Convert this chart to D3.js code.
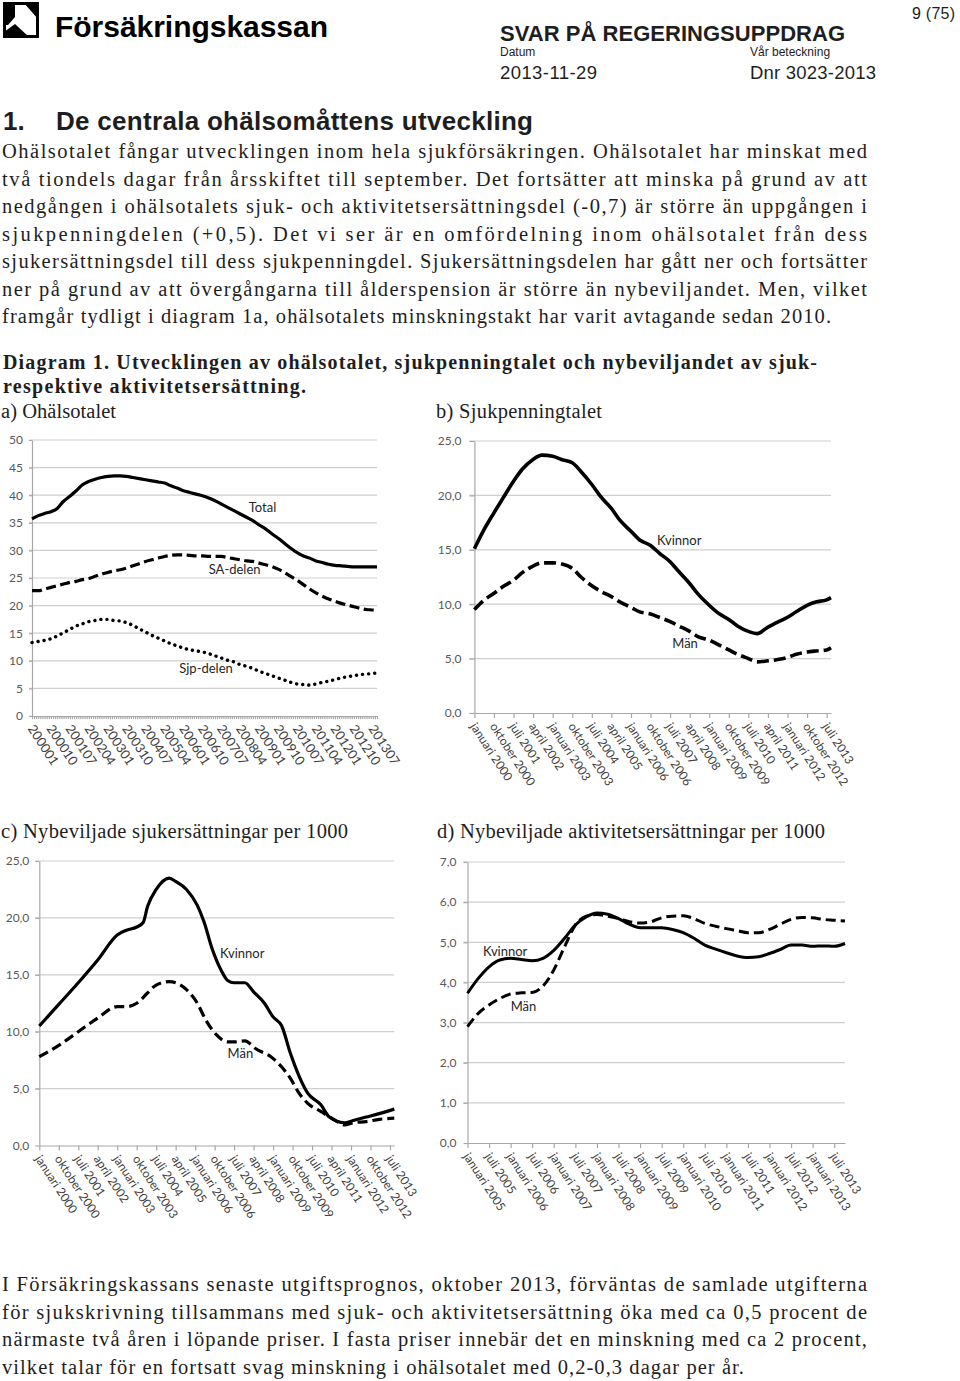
<!DOCTYPE html>
<html lang="sv">
<head>
<meta charset="UTF-8">
<title>Diagram 1 - ohälsotalet</title>
<script src="https://d3js.org/d3.v7.min.js"></script>
<style>
  body { margin: 0; background: #fff; }
  #page { font-family: "Liberation Serif", "Times New Roman", serif; fill: #1e1e1e; }
</style>
</head>
<body>
<svg id="page" width="960" height="1381"></svg>
<script>
// ---- a) Ohälsotalet, quarterly readings ----
const aMonths = ["2000-01","2000-04","2000-07","2000-10","2001-01","2001-04","2001-07","2001-10","2002-01","2002-04","2002-07","2002-10","2003-01","2003-04","2003-07","2003-10","2004-01","2004-04","2004-07","2004-10","2005-01","2005-04","2005-07","2005-10","2006-01","2006-04","2006-07","2006-10","2007-01","2007-04","2007-07","2007-10","2008-01","2008-04","2008-07","2008-10","2009-01","2009-04","2009-07","2009-10","2010-01","2010-04","2010-07","2010-10","2011-01","2011-04","2011-07","2011-10","2012-01","2012-04","2012-07","2012-10","2013-01","2013-04","2013-07","2013-09"];
const aTotal = [35.7,36.3,36.7,37.0,37.6,38.9,39.8,40.8,41.9,42.5,42.9,43.2,43.4,43.5,43.5,43.4,43.2,43.0,42.8,42.6,42.4,42.2,41.7,41.3,40.8,40.5,40.2,39.9,39.5,39.0,38.4,37.8,37.2,36.6,36.0,35.4,34.6,33.9,33.0,32.2,31.3,30.4,29.6,29.0,28.6,28.1,27.8,27.5,27.3,27.2,27.1,27.0,27.0,27.0,27.0,27.0];
const aSA = [22.7,22.7,23.0,23.3,23.6,23.9,24.2,24.4,24.7,24.9,25.3,25.7,26.0,26.3,26.5,26.8,27.2,27.6,28.0,28.3,28.6,28.9,29.1,29.2,29.2,29.1,29.0,29.0,28.9,28.9,28.9,28.7,28.5,28.3,28.1,28.0,27.7,27.4,27.1,26.6,26.0,25.3,24.6,23.8,23.0,22.3,21.7,21.2,20.8,20.4,20.1,19.8,19.5,19.3,19.2,19.1];
const aSjp = [13.3,13.5,13.7,14.0,14.5,15.1,15.7,16.3,16.7,17.1,17.3,17.5,17.5,17.3,17.2,16.9,16.4,15.8,15.2,14.6,14.1,13.6,13.1,12.7,12.3,12.0,11.8,11.6,11.3,10.9,10.5,10.1,9.8,9.3,9.0,8.6,8.1,7.7,7.3,6.9,6.5,6.1,5.8,5.7,5.6,5.8,6.1,6.3,6.6,6.9,7.1,7.3,7.5,7.6,7.7,7.8];
const aTicks = ["200001","200010","200107","200204","200301","200310","200407","200504","200601","200610","200707","200804","200901","200910","201007","201104","201201","201210","201307"];

// ---- b) Sjukpenningtalet ----
const bMonths = ["2000-01","2000-05","2000-10","2001-02","2001-07","2001-11","2002-04","2002-08","2003-01","2003-05","2003-10","2004-02","2004-07","2004-11","2005-04","2005-08","2006-01","2006-05","2006-10","2007-02","2007-07","2007-11","2008-04","2008-08","2009-01","2009-05","2009-10","2010-02","2010-07","2010-11","2011-04","2011-08","2012-01","2012-05","2012-10","2013-02","2013-07","2013-09"];
const bKvinnor = [15.1,16.7,18.4,19.7,21.3,22.4,23.3,23.7,23.6,23.3,23.0,22.2,21.0,19.9,18.8,17.7,16.7,15.9,15.4,14.7,13.9,13.0,11.9,10.9,9.9,9.2,8.6,8.0,7.5,7.3,7.9,8.3,8.8,9.3,9.9,10.2,10.4,10.6];
const bMan = [9.5,10.3,11.0,11.6,12.2,12.9,13.5,13.8,13.8,13.7,13.3,12.5,11.7,11.2,10.7,10.2,9.7,9.3,9.1,8.8,8.4,8.0,7.5,7.0,6.7,6.3,5.8,5.4,5.0,4.7,4.8,4.9,5.1,5.4,5.6,5.7,5.8,6.0];
const bcTicks = ["januari 2000","oktober 2000","juli 2001","april 2002","januari 2003","oktober 2003","juli 2004","april 2005","januari 2006","oktober 2006","juli 2007","april 2008","januari 2009","oktober 2009","juli 2010","april 2011","januari 2012","oktober 2012","juli 2013"];

// ---- c) Nybeviljade sjukersättningar ----
const cMonthsK = ["2000-01","2000-10","2001-07","2002-04","2003-01","2003-05","2003-10","2004-01","2004-03","2004-07","2005-01","2005-04","2005-09","2006-02","2006-05","2006-09","2007-01","2007-04","2007-07","2007-12","2008-04","2008-09","2009-01","2009-05","2009-09","2010-01","2010-05","2010-11","2011-03","2011-10","2012-02","2012-08","2013-02","2013-09"];
const cKvinnor = [10.5,12.4,14.3,16.3,18.5,18.9,19.2,19.6,21.0,22.5,23.5,23.2,22.5,21.1,19.7,17.2,15.4,14.5,14.3,14.3,13.5,12.5,11.3,10.5,8.1,6.1,4.6,3.6,2.5,2.0,2.2,2.5,2.8,3.2];
const cMonthsM = ["2000-01","2000-10","2001-07","2002-04","2003-01","2003-05","2003-10","2004-03","2004-07","2005-01","2005-04","2005-09","2006-02","2006-06","2006-11","2007-04","2007-07","2007-12","2008-05","2008-12","2009-05","2009-09","2010-01","2010-05","2010-11","2011-05","2011-10","2012-02","2012-08","2013-02","2013-09"];
const cMan = [7.8,8.8,10.0,11.2,12.2,12.2,12.5,13.4,14.1,14.4,14.3,13.7,12.5,11.0,9.7,9.1,9.1,9.2,8.5,7.8,6.9,5.9,4.6,3.7,3.0,2.3,1.8,2.0,2.1,2.3,2.4];

// ---- d) Nybeviljade aktivitetsersättningar ----
const dMonths = ["2005-01","2005-04","2005-07","2005-10","2006-01","2006-04","2006-07","2006-10","2007-01","2007-04","2007-07","2007-10","2008-01","2008-04","2008-07","2008-10","2009-01","2009-04","2009-07","2009-10","2010-01","2010-04","2010-07","2010-10","2011-01","2011-04","2011-07","2011-10","2012-01","2012-04","2012-07","2012-10","2013-01","2013-04","2013-07","2013-10"];
const dKvinnor = [3.73,4.1,4.39,4.56,4.6,4.57,4.54,4.6,4.8,5.1,5.43,5.63,5.73,5.7,5.59,5.45,5.36,5.36,5.36,5.32,5.24,5.1,4.93,4.83,4.74,4.66,4.62,4.64,4.72,4.82,4.93,4.93,4.9,4.91,4.9,4.97];
const dMan = [2.9,3.23,3.44,3.6,3.71,3.74,3.75,3.91,4.31,4.89,5.43,5.65,5.69,5.65,5.59,5.51,5.48,5.51,5.61,5.65,5.66,5.59,5.47,5.4,5.34,5.29,5.24,5.24,5.32,5.45,5.57,5.62,5.61,5.57,5.55,5.53];
const dTicks = ["januari 2005","juli 2005","januari 2006","juli 2006","januari 2007","juli 2007","januari 2008","juli 2008","januari 2009","juli 2009","januari 2010","juli 2010","januari 2011","juli 2011","januari 2012","juli 2012","januari 2013","juli 2013"];

// ---- page text ----
const bodyTop = [
  "Ohälsotalet fångar utvecklingen inom hela sjukförsäkringen. Ohälsotalet har minskat med",
  "två tiondels dagar från årsskiftet till september. Det fortsätter att minska på grund av att",
  "nedgången i ohälsotalets sjuk- och aktivitetsersättningsdel (-0,7) är större än uppgången i",
  "sjukpenningdelen (+0,5). Det vi ser är en omfördelning inom ohälsotalet från dess",
  "sjukersättningsdel till dess sjukpenningdel. Sjukersättningsdelen har gått ner och fortsätter",
  "ner på grund av att övergångarna till ålderspension är större än nybeviljandet. Men, vilket",
  "framgår tydligt i diagram 1a, ohälsotalets minskningstakt har varit avtagande sedan 2010."
];
const bodyBottom = [
  "I Försäkringskassans senaste utgiftsprognos, oktober 2013, förväntas de samlade utgifterna",
  "för sjukskrivning tillsammans med sjuk- och aktivitetsersättning öka med ca 0,5 procent de",
  "närmaste två åren i löpande priser. I fasta priser innebär det en minskning med ca 2 procent,",
  "vilket talar för en fortsatt svag minskning i ohälsotalet med 0,2-0,3 dagar per år."
];

const svg = d3.select("#page");
const sans = "'Liberation Sans', Arial, sans-serif";

function monthIdx(s, y0) {
  const p = s.split("-").map(Number);
  return (p[0] - y0) * 12 + p[1] - 1;
}
const monthNames = {januari: 0, april: 3, juli: 6, oktober: 9};
function labelIdx(s, y0) {
  if (/^\d{6}$/.test(s)) return (+s.slice(0, 4) - y0) * 12 + (+s.slice(4)) - 1;
  const p = s.split(" ");
  return (+p[1] - y0) * 12 + monthNames[p[0]];
}

// header / logo
svg.append("rect").attr("x", 4.5).attr("y", 3.5).attr("width", 33).attr("height", 33)
  .attr("fill", "none").attr("stroke", "#000").attr("stroke-width", 3);
svg.append("path").attr("d", "M24,3 L38,3 L38,19 Z").attr("fill", "#000");
svg.append("path").attr("d", "M4,4 L15,4 L15,17 L8,25 L4,25 Z").attr("fill", "#000");
svg.append("path").attr("d", "M4,37 L4,32 L15,24 L29,37 Z").attr("fill", "#000");
svg.append("text").attr("x", 55).attr("y", 37).attr("textLength", 273)
  .style("font-family", sans).style("font-weight", "bold")
  .style("font-size", "30px").attr("fill", "#000").text("Försäkringskassan");

const hdr = svg.append("g").style("font-family", sans);
hdr.append("text").attr("x", 912).attr("y", 19).attr("textLength", 43).style("font-size", "16px").text("9 (75)");
hdr.append("text").attr("x", 500).attr("y", 41).attr("textLength", 345).style("font-size", "22px")
  .style("font-weight", "bold").text("SVAR PÅ REGERINGSUPPDRAG");
hdr.append("text").attr("x", 500).attr("y", 56).style("font-size", "12px").text("Datum");
hdr.append("text").attr("x", 750).attr("y", 56).style("font-size", "12px").text("Vår beteckning");
hdr.append("text").attr("x", 500).attr("y", 79).attr("textLength", 97).style("font-size", "18.5px").text("2013-11-29");
hdr.append("text").attr("x", 750).attr("y", 79).attr("textLength", 126).style("font-size", "18.5px").text("Dnr 3023-2013");
hdr.append("text").attr("x", 3).attr("y", 130).style("font-size", "26px").style("font-weight", "bold").text("1.");
hdr.append("text").attr("x", 56).attr("y", 130).attr("textLength", 477).style("font-size", "26px")
  .style("font-weight", "bold").text("De centrala ohälsomåttens utveckling");

function paragraph(lines, y0, lastLen) {
  svg.append("g").selectAll("text").data(lines).join("text")
    .attr("x", 2).attr("y", (d, i) => y0 + i * 27.5)
    .attr("textLength", (d, i) => i === lines.length - 1 ? lastLen : 865)
    .attr("lengthAdjust", "spacing")
    .style("font-size", "20.5px").text(d => d);
}
paragraph(bodyTop, 158, 829);
paragraph(bodyBottom, 1291, 742);

svg.append("text").attr("x", 3).attr("y", 369).attr("textLength", 814).style("font-size", "20px")
  .style("font-weight", "bold").text("Diagram 1. Utvecklingen av ohälsotalet, sjukpenningtalet och nybeviljandet av sjuk-");
svg.append("text").attr("x", 3).attr("y", 393).attr("textLength", 303).style("font-size", "20px")
  .style("font-weight", "bold").text("respektive aktivitetsersättning.");
svg.append("text").attr("x", 1).attr("y", 418).attr("textLength", 115).style("font-size", "20.5px").text("a) Ohälsotalet");
svg.append("text").attr("x", 436).attr("y", 418).attr("textLength", 166).style("font-size", "20.5px").text("b) Sjukpenningtalet");
svg.append("text").attr("x", 1).attr("y", 838).attr("textLength", 347).style("font-size", "20.5px").text("c) Nybeviljade sjukersättningar per 1000");
svg.append("text").attr("x", 437).attr("y", 838).attr("textLength", 388).style("font-size", "20.5px").text("d) Nybeviljade aktivitetsersättningar per 1000");

// charts
function drawChart(c) {
  const g = svg.append("g").style("font-family", "Lato, 'Open Sans', sans-serif");
  const x = d3.scaleLinear().domain([0, c.xMax]).range([c.left, c.right]);
  const y = d3.scaleLinear().domain([0, c.yMax]).range([c.bottom, c.top]);
  const yTicks = d3.range(0, c.yMax + c.yStep / 2, c.yStep);

  g.append("g").selectAll("line").data(yTicks.slice(1)).join("line")
    .attr("x1", c.left - c.yTick).attr("x2", c.right)
    .attr("y1", d => y(d)).attr("y2", d => y(d))
    .attr("stroke", "#cfcfcf").attr("stroke-width", 1.2);

  g.append("g").attr("transform", `translate(${c.left},0)`)
    .call(d3.axisLeft(y).tickValues(yTicks).tickSize(c.yTick).tickSizeOuter(0).tickPadding(c.yPad).tickFormat(c.yFmt))
    .call(a => a.selectAll(".domain, .tick line").attr("stroke", "#a8a8a8").attr("stroke-width", 1.2))
    .call(a => a.selectAll("text").attr("fill", "#595959")
      .style("font-family", "Lato, sans-serif").style("font-size", c.yFont + "px"));

  g.append("g").attr("transform", `translate(0,${c.bottom})`)
    .call(d3.axisBottom(x).tickValues(c.tickValues).tickSize(c.xTick).tickSizeOuter(0).tickFormat(""))
    .call(a => a.selectAll(".domain, .tick line").attr("stroke", "#a8a8a8").attr("stroke-width", 1.2));

  g.append("g").selectAll("text").data(c.ticks).join("text")
    .attr("transform", d => `translate(${x(labelIdx(d, c.y0)) - 1},${c.bottom + c.lblDy}) rotate(57)`)
    .attr("dy", "0.35em").attr("fill", "#404040")
    .style("font-family", "Lato, sans-serif").style("font-size", c.xFont + "px")
    .text(d => d);

  const line = d3.line().x(d => x(d[0])).y(d => y(d[1])).curve(d3.curveMonotoneX);
  c.series.forEach(s => {
    const pts = s.months.map((m, i) => [monthIdx(m, c.y0), s.values[i]]);
    g.append("path").datum(pts).attr("d", line).attr("fill", "none")
      .attr("stroke", "#000").attr("stroke-width", s.width)
      .attr("stroke-dasharray", s.dash || null)
      .attr("stroke-linecap", s.cap || "butt").attr("stroke-linejoin", "round");
    g.append("text").attr("x", x(s.lx)).attr("y", y(s.ly))
      .attr("fill", "#262626").style("font-family", "Lato, sans-serif").style("font-size", "13px")
      .text(s.label);
  });
}

const commaFmt = d => d.toFixed(1).replace(".", ",");

drawChart({
  left: 32, right: 377, top: 440, bottom: 716, xMax: 164, y0: 2000,
  yMax: 50, yStep: 5, yFmt: d => d, yTick: 3, yPad: 6, yFont: 12,
  tickValues: d3.range(0, 165), xTick: 3, ticks: aTicks, lblDy: 10, xFont: 13,
  series: [
    {months: aMonths, values: aTotal, width: 3.2, label: "Total", lx: 103, ly: 37.0},
    {months: aMonths, values: aSA, width: 3.2, dash: "10,4.5", label: "SA-delen", lx: 84, ly: 25.7},
    {months: aMonths, values: aSjp, width: 3.4, dash: "0.1,6", cap: "round", label: "Sjp-delen", lx: 70, ly: 7.8}
  ]
});

drawChart({
  left: 474.4, right: 831, top: 441, bottom: 713, xMax: 164, y0: 2000,
  yMax: 25, yStep: 5, yFmt: commaFmt, yTick: 5, yPad: 8, yFont: 12,
  tickValues: d3.range(0, 165, 9), xTick: 5, ticks: bcTicks, lblDy: 11, xFont: 12,
  series: [
    {months: bMonths, values: bKvinnor, width: 3.6, label: "Kvinnor", lx: 84, ly: 15.4},
    {months: bMonths, values: bMan, width: 3.6, dash: "12,5", label: "Män", lx: 91, ly: 6.0}
  ]
});

drawChart({
  left: 39.3, right: 394.3, top: 861, bottom: 1145.5, xMax: 164, y0: 2000,
  yMax: 25, yStep: 5, yFmt: commaFmt, yTick: 4, yPad: 6, yFont: 12,
  tickValues: d3.range(0, 165, 9), xTick: 5, ticks: bcTicks, lblDy: 11, xFont: 12,
  series: [
    {months: cMonthsK, values: cKvinnor, width: 3.2, label: "Kvinnor", lx: 83.5, ly: 16.5},
    {months: cMonthsM, values: cMan, width: 3.2, dash: "10,5", label: "Män", lx: 87, ly: 7.7}
  ]
});

drawChart({
  left: 467.5, right: 845, top: 862, bottom: 1143, xMax: 105, y0: 2005,
  yMax: 7, yStep: 1, yFmt: commaFmt, yTick: 4, yPad: 7, yFont: 12,
  tickValues: d3.range(0, 106, 6), xTick: 5, ticks: dTicks, lblDy: 11, xFont: 12,
  series: [
    {months: dMonths, values: dKvinnor, width: 3, label: "Kvinnor", lx: 4.3, ly: 4.66},
    {months: dMonths, values: dMan, width: 3, dash: "10,5", label: "Män", lx: 12, ly: 3.29}
  ]
});
</script>
</body>
</html>
